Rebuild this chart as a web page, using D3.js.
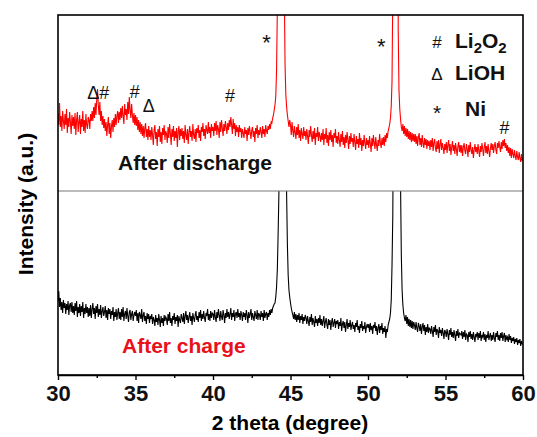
<!DOCTYPE html>
<html>
<head>
<meta charset="utf-8">
<script src="https://cdn.jsdelivr.net/npm/d3@7"></script>
<style>
  body { margin: 0; background: #fff; }
  text { font-family: Arial, "Liberation Sans", sans-serif; }
</style>
</head>
<body>
<div class="chart"></div>
<script>
// 2 theta grid: 30 -> 60 deg, 0.05 deg step
var thetaStart = 30, thetaStep = 0.05;

// after discharge (red), intensity a.u.
var discharge = [
 78,66,88,64,75,60,80,70,62,77,66,82,58,73,64,79,69,57,76,65,
 74,62,78,56,71,79,59,69,76,57,72,64,80,60,71,58,77,66,62,74,
 71,62,77,70,80,70,84,73,88,76,92,102,86,76,89,70,80,66,75,63,
 72,60,69,55,66,74,57,68,53,65,71,59,73,64,77,66,75,80,68,79,
 71,83,73,85,75,67,87,76,82,71,89,77,94,81,73,87,76,68,78,66,
 76,65,74,61,71,59,69,57,67,55,65,53,63,68,54,62,51,65,54,61,
 51,64,56,46,61,66,52,59,45,62,54,65,49,59,47,63,56,66,51,60,
 57,48,64,53,67,58,46,62,54,65,50,60,53,63,44,59,65,51,62,55,
 63,52,60,48,66,56,51,62,47,59,65,54,60,50,67,56,52,62,49,63,
 58,66,53,61,50,64,59,68,55,62,52,66,61,57,69,58,64,53,67,60,
 64,55,68,60,70,56,66,62,53,69,59,71,63,55,67,60,70,64,57,68,
 61,71,64,74,66,57,72,62,68,55,66,59,64,54,66,59,63,53,62,58,
 53,64,57,61,50,63,56,65,59,52,61,64,54,60,49,63,57,66,53,61,
 56,64,59,53,65,57,62,54,66,60,57,65,61,67,62,69,68,73,76,81,
 86,95,120,180,400,900,1500,1500,1500,1500,1200,600,200,125,96,84,76,70,64,71,
 66,56,69,60,54,65,59,52,64,56,67,53,61,50,63,57,52,64,55,60,
 51,62,55,47,61,54,65,56,49,60,52,63,46,58,54,64,50,59,55,49,
 58,51,62,46,57,52,63,48,56,45,59,51,61,49,56,44,58,53,62,48,
 55,47,59,51,44,57,49,60,46,54,43,56,48,59,51,42,55,47,58,49,
 53,44,57,49,41,55,47,52,43,58,46,53,40,51,45,56,48,42,53,46,
 51,43,55,47,39,53,45,56,48,42,54,46,40,51,45,57,48,43,53,46,
 54,45,56,49,58,53,60,63,67,73,85,110,200,600,1500,1500,1500,1500,400,160,
 100,82,72,64,60,67,57,65,55,63,54,62,52,60,51,59,49,58,50,57,
 49,57,47,55,45,54,58,46,53,44,56,48,43,53,46,52,42,51,45,50,
 41,51,44,53,40,48,52,43,39,50,42,51,38,47,52,41,48,43,37,47,
 41,49,38,46,51,40,47,36,44,50,40,46,37,48,42,35,45,49,39,46,
 38,46,35,44,48,40,37,47,42,34,46,39,49,41,37,44,33,41,47,39,
 44,37,47,40,34,45,39,48,42,35,44,49,38,45,37,47,40,34,43,48,
 41,47,38,45,49,41,37,48,43,50,44,39,49,42,51,45,52,43,48,40,
 46,38,44,35,43,33,42,37,33,41,35,31,40,34,31,39,33,29,37,30,
 33
];

// after charge (black), intensity a.u.
var charge = [
 74,84,68,77,65,73,62,75,67,72,61,71,65,74,60,70,72,63,73,62,
 69,60,72,64,74,58,68,62,71,59,69,63,73,57,67,61,71,62,68,58,
 67,59,70,57,66,72,61,67,56,69,62,71,58,66,60,70,57,64,68,59,
 63,69,57,65,55,67,61,66,56,64,60,68,54,63,58,66,55,62,67,56,
 63,55,66,58,68,54,61,64,56,67,59,53,63,65,55,61,64,54,60,63,
 59,65,54,62,52,63,60,56,66,53,60,63,54,59,51,62,56,61,52,59,
 56,61,51,58,55,49,60,53,57,50,61,55,48,59,52,57,49,60,54,58,
 56,50,61,54,63,52,57,49,59,55,62,51,58,54,60,48,59,55,52,61,
 57,53,62,51,59,64,55,60,52,58,63,54,59,50,62,57,53,60,64,55,
 59,53,63,57,65,54,61,56,64,57,53,62,59,66,55,61,54,64,57,62,
 61,55,65,58,53,63,57,66,60,54,64,58,55,65,60,52,62,57,66,58,
 63,56,61,67,55,62,58,65,54,61,63,57,66,58,62,55,64,60,54,63,
 58,62,55,65,60,52,63,57,61,66,55,62,58,54,64,60,56,65,55,62,
 60,55,64,58,62,54,65,57,61,63,55,62,58,65,60,66,62,67,69,71,
 72,78,88,105,140,180,400,1500,1500,1500,1500,1500,1500,600,260,180,130,100,85,78,
 72,67,63,60,56,63,55,61,53,60,55,62,52,59,55,61,51,58,54,60,
 57,51,59,54,49,58,53,61,50,57,53,48,59,52,56,49,57,52,60,50,
 56,49,54,59,47,53,57,50,46,56,50,55,45,53,57,48,52,56,47,54,
 51,55,46,53,49,57,44,51,54,47,53,43,50,56,46,52,48,55,45,50,
 53,46,50,43,52,48,55,45,49,42,51,47,54,44,49,46,53,42,48,51,
 47,51,43,52,45,49,41,50,47,53,44,49,40,47,51,42,49,45,52,41,
 47,43,49,37,46,43,50,53,56,62,75,110,160,300,1500,1500,1500,1500,1500,1500,
 700,300,190,120,85,70,62,57,54,60,51,58,49,56,48,55,47,54,46,53,
 50,45,53,47,43,52,49,44,51,41,48,52,44,50,40,48,43,51,42,47,
 46,41,49,44,38,48,43,50,40,46,44,37,48,42,45,39,47,42,36,45,
 43,38,46,41,35,45,40,47,38,43,37,45,40,34,44,39,46,37,42,41,
 40,44,36,43,38,45,35,41,40,33,43,38,44,36,41,35,43,38,33,41,
 39,43,35,42,37,44,34,40,38,43,35,41,33,40,37,44,35,39,42,34,
 40,35,43,37,33,42,38,44,35,40,34,42,37,43,34,39,42,33,40,36,
 38,33,41,35,39,32,37,34,38,31,36,33,37,30,35,32,36,29,34,31,
 31
];

var majorTicks = [30, 35, 40, 45, 50, 55, 60];
var minorTicks = [32.5, 37.5, 42.5, 47.5, 52.5, 57.5];

// phase marks above the discharge pattern: symbol, 2 theta, intensity
var peakMarks = [
  {sym: "\u0394#", theta: 32.6, value: 92},
  {sym: "#", theta: 34.95, value: 93},
  {sym: "\u0394", theta: 35.85, value: 79},
  {sym: "#", theta: 41.1, value: 89},
  {sym: "*", theta: 43.45, value: 141},
  {sym: "*", theta: 50.85, value: 137},
  {sym: "#", theta: 58.8, value: 57}
];

var legendSymbols = ["#", "\u0394", "*"];
var legendNames = ["Li2O2", "LiOH", "Ni"];

var W = 537, H = 437;
var mLeft = 58, mRight = 523, mTop = 15, mMid = 191, mBottom = 375;
var fontSize = 21;

var svg = d3.select("div.chart")
            .append("svg")
            .attr("width", W)
            .attr("height", H);

var x = d3.scaleLinear().domain([30, 60]).range([mLeft, mRight]);
var yUp = d3.scaleLinear().domain([0, 176]).range([mMid, mTop]);
var yLow = d3.scaleLinear().domain([0, 184]).range([mBottom, mMid]);

var defs = svg.append("defs");
defs.append("clipPath").attr("id", "clipUp")
    .append("rect").attr("x", mLeft).attr("y", mTop)
    .attr("width", mRight - mLeft).attr("height", mMid - mTop);
defs.append("clipPath").attr("id", "clipLow")
    .append("rect").attr("x", mLeft).attr("y", mMid)
    .attr("width", mRight - mLeft).attr("height", mBottom - mMid);

function theta(i){ return thetaStart + i * thetaStep; }

var lineUp = d3.line()
    .x(function(d, i){ return x(theta(i)); })
    .y(function(d){ return yUp(d); });
var lineLow = d3.line()
    .x(function(d, i){ return x(theta(i)); })
    .y(function(d){ return yLow(d); });

svg.append("path")
   .attr("d", lineUp(discharge))
   .attr("clip-path", "url(#clipUp)")
   .attr("fill", "none")
   .attr("stroke", "#ff0000")
   .attr("stroke-width", 1.1);

svg.append("path")
   .attr("d", lineLow(charge))
   .attr("clip-path", "url(#clipLow)")
   .attr("fill", "none")
   .attr("stroke", "#000")
   .attr("stroke-width", 1.1);

//divider between the two patterns
svg.append("line")
   .attr("x1", mLeft).attr("x2", mRight)
   .attr("y1", mMid).attr("y2", mMid)
   .attr("stroke", "#777")
   .attr("stroke-width", 1);

//frame
svg.append("rect")
   .attr("x", mLeft).attr("y", mTop)
   .attr("width", mRight - mLeft).attr("height", mBottom - mTop)
   .attr("fill", "none")
   .attr("stroke", "#000")
   .attr("stroke-width", 1.6);

//x axis
var gx = svg.append("g")
   .attr("transform", "translate(0," + mBottom + ")")
   .call(d3.axisBottom(x).tickValues(majorTicks).tickSize(5)
           .tickSizeOuter(0).tickPadding(5).tickFormat(d3.format("d")));
svg.append("g")
   .attr("transform", "translate(0," + mBottom + ")")
   .call(d3.axisBottom(x).tickValues(minorTicks).tickSize(3)
           .tickSizeOuter(0).tickFormat(""))
   .select(".domain").remove();
gx.select(".domain").attr("stroke-width", 1.6);
svg.selectAll(".tick line").attr("stroke-width", 1.4);
gx.selectAll("text")
  .attr("font-size", 22)
  .attr("font-weight", "bold")
  .attr("font-family", "Arial, 'Liberation Sans', sans-serif")
  .attr("fill", "#111");

//axis titles
svg.append("text")
   .attr("x", 290).attr("y", 430)
   .attr("text-anchor", "middle")
   .attr("font-size", fontSize).attr("font-weight", "bold")
   .text("2 theta (degree)");

svg.append("text")
   .attr("transform", "translate(33,204) rotate(-90)")
   .attr("text-anchor", "middle")
   .attr("font-size", fontSize).attr("font-weight", "bold")
   .text("Intensity (a.u.)");

//sample labels
svg.append("text")
   .attr("x", 118).attr("y", 170)
   .attr("font-size", fontSize).attr("font-weight", "bold")
   .attr("fill", "#111")
   .text("After discharge");

svg.append("text")
   .attr("x", 122).attr("y", 353)
   .attr("font-size", fontSize).attr("font-weight", "bold")
   .attr("fill", "#e8101a")
   .text("After charge");

//phase marks
svg.selectAll(".mark")
   .data(peakMarks)
   .enter()
   .append("text")
   .attr("class", "mark")
   .attr("x", function(d){ return x(d.theta); })
   .attr("y", function(d){ return yUp(d.value); })
   .attr("text-anchor", "middle")
   .attr("font-size", function(d){ return d.sym === "*" ? 22 : 18; })
   .attr("fill", "#111")
   .text(function(d){ return d.sym; });

//legend
var legend = svg.append("g");
legendSymbols.forEach(function(s, i){
  var ly = 48 + i * 32;
  legend.append("text")
        .attr("x", 437).attr("y", ly + (s === "*" ? 8 : 0))
        .attr("text-anchor", "middle")
        .attr("font-size", s === "*" ? 21 : 17)
        .attr("fill", "#111")
        .text(s);
  var t = legend.append("text")
        .attr("x", i === 2 ? 465 : 455).attr("y", ly + (i === 2 ? 4 : 0))
        .attr("font-size", fontSize).attr("font-weight", "bold")
        .attr("fill", "#111");
  if (legendNames[i] === "Li2O2") {
    t.append("tspan").text("Li");
    t.append("tspan").attr("font-size", 15).attr("dy", 5).text("2");
    t.append("tspan").attr("dy", -5).text("O");
    t.append("tspan").attr("font-size", 15).attr("dy", 5).text("2");
  } else {
    t.text(legendNames[i]);
  }
});
</script>
</body>
</html>
